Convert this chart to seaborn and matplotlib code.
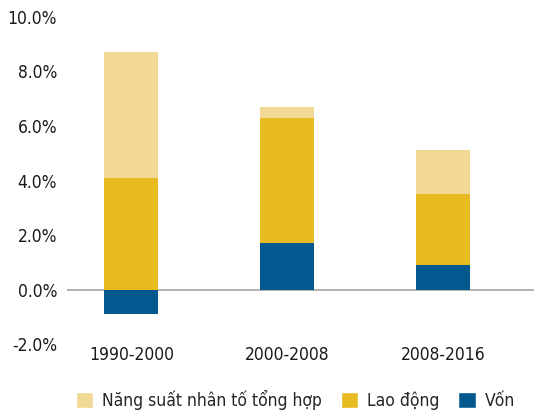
import matplotlib as mpl
from matplotlib import pyplot as plt
from matplotlib.patches import Patch
import seaborn as sns
import numpy as np
import pandas as pd

periods = ["1990-2000", "2000-2008", "2008-2016"]
von = [-0.9, 1.7, 0.9]
lao_dong = [4.1, 4.6, 2.6]
tfp = [4.6, 0.4, 1.6]

names = ["Năng suất nhân tố tổng hợp", "Lao động", "Vốn"]
colors = {"Vốn": "#03598F", "Lao động": "#E8BB21",
          "Năng suất nhân tố tổng hợp": "#F2D895"}

sns.set_style("white")
plt.rcParams['font.family'] = ['DejaVu Sans']
plt.rcParams['font.stretch'] = 'condensed'

fig, ax = plt.subplots(figsize=(5.34, 4.15), dpi=100)
fig.subplots_adjust(left=0.125, right=1.0, top=0.96, bottom=0.17)

von_pos = np.clip(von, 0, None)
df = pd.DataFrame({"period": periods, "Vốn": von, "Lao động": lao_dong,
                   "Năng suất nhân tố tổng hợp": tfp})

bar_kw = dict(width=0.345, saturation=1, linewidth=0, ax=ax)
sns.barplot(data=df, x="period", y="Vốn", color=colors["Vốn"], **bar_kw)
sns.barplot(data=df, x="period", y="Lao động", color=colors["Lao động"],
            bottom=von_pos, **bar_kw)
sns.barplot(data=df, x="period", y="Năng suất nhân tố tổng hợp",
            color=colors["Năng suất nhân tố tổng hợp"],
            bottom=von_pos + np.array(lao_dong), **bar_kw)

ax.set_ylim(-2, 10)
ax.set_xlim(-0.414, 2.585)
ax.set_yticks(np.arange(-2, 10.1, 2))
ax.set_yticklabels([f"{v:.1f}%" for v in np.arange(-2, 10.1, 2)])
ax.axhline(0, color="#A6A6A6", lw=1.2, zorder=0.5)
ax.set_xlabel("")
ax.set_ylabel("")
for s in ax.spines.values():
    s.set_visible(False)
ax.tick_params(axis="both", length=0, labelsize=12.5, colors="#1a1a1a")
ax.tick_params(axis="y", pad=7)
ax.tick_params(axis="x", pad=1)

handles = [Patch(facecolor=colors[n], label=n) for n in names]
fig.legend(handles=handles, loc="lower center", ncol=3, frameon=False,
           fontsize=12.5, bbox_to_anchor=(0.553, -0.025), handlelength=1.0,
           handleheight=1.0, handletextpad=0.5, columnspacing=1.1)

plt.savefig("out.png", dpi=100)
